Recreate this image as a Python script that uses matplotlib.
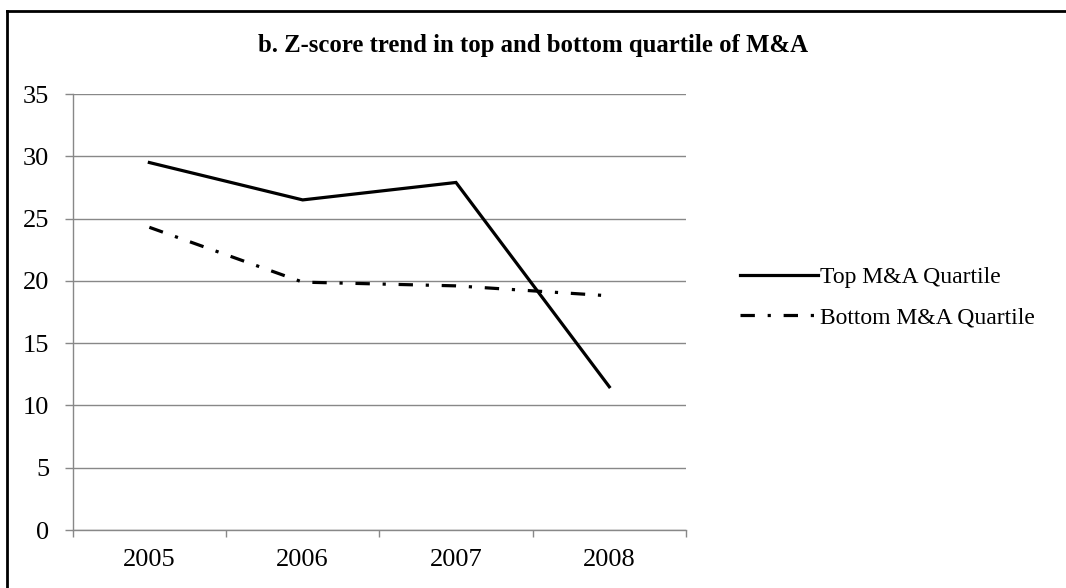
import matplotlib.pyplot as plt
from matplotlib.lines import Line2D

years = ['2005', '2006', '2007', '2008']
top_quartile = [29.5, 26.5, 27.9, 11.5]
bottom_quartile = [24.3, 19.9, 19.6, 18.8]
y_ticks = [0, 5, 10, 15, 20, 25, 30, 35]

plt.rcParams['font.family'] = ['Liberation Serif', 'DejaVu Serif']

fig = plt.figure(figsize=(10.66, 5.88), dpi=100)
ax = fig.add_axes([0.0682, 0.0986, 0.5753, 0.7415])

x = list(range(len(years)))
ax.plot(x, top_quartile, color='black', lw=2.3, solid_joinstyle='miter',
        label='Top M&A Quartile')
ax.plot(x, bottom_quartile, color='black', lw=2.3, dashes=(4.5, 4, 1, 4),
        label='Bottom M&A Quartile')

ax.set_xlim(-0.5, len(years) - 0.5)
ax.set_ylim(0, 35)
ax.set_yticks(y_ticks)
ax.set_xticks(x)
ax.set_xticklabels(years)
ax.set_xticks([i - 0.5 for i in range(len(years) + 1)], minor=True)
ax.tick_params(axis='x', which='major', length=0, pad=14, labelsize=19)
ax.tick_params(axis='x', which='minor', length=5, color='#888888', width=1)
ax.tick_params(axis='y', length=6, color='#888888', width=1, labelsize=19, pad=11)
ax.yaxis.grid(True, color='#888888', lw=1)
ax.set_axisbelow(True)
for s in ['top', 'right']:
    ax.spines[s].set_visible(False)
for s in ['left', 'bottom']:
    ax.spines[s].set_color('#888888')
    ax.spines[s].set_linewidth(1)

fig.text(0.5, 0.923, 'b. Z-score trend in top and bottom quartile of M&A',
         ha='center', va='center', fontsize=17.8, fontweight='bold')

fig.legend(loc='center left', bbox_to_anchor=(0.674, 0.494), frameon=False,
           fontsize=17, handlelength=3.3, handletextpad=0.1, labelspacing=0.8)

# outer frame (only left and top edges visible in the crop)
fig.add_artist(Line2D([0.0061, 0.0061], [0, 0.981], color='black', lw=2,
                      transform=fig.transFigure))
fig.add_artist(Line2D([0.0061, 1], [0.981, 0.981], color='black', lw=2,
                      transform=fig.transFigure))

fig.savefig('out.png', dpi=100)
